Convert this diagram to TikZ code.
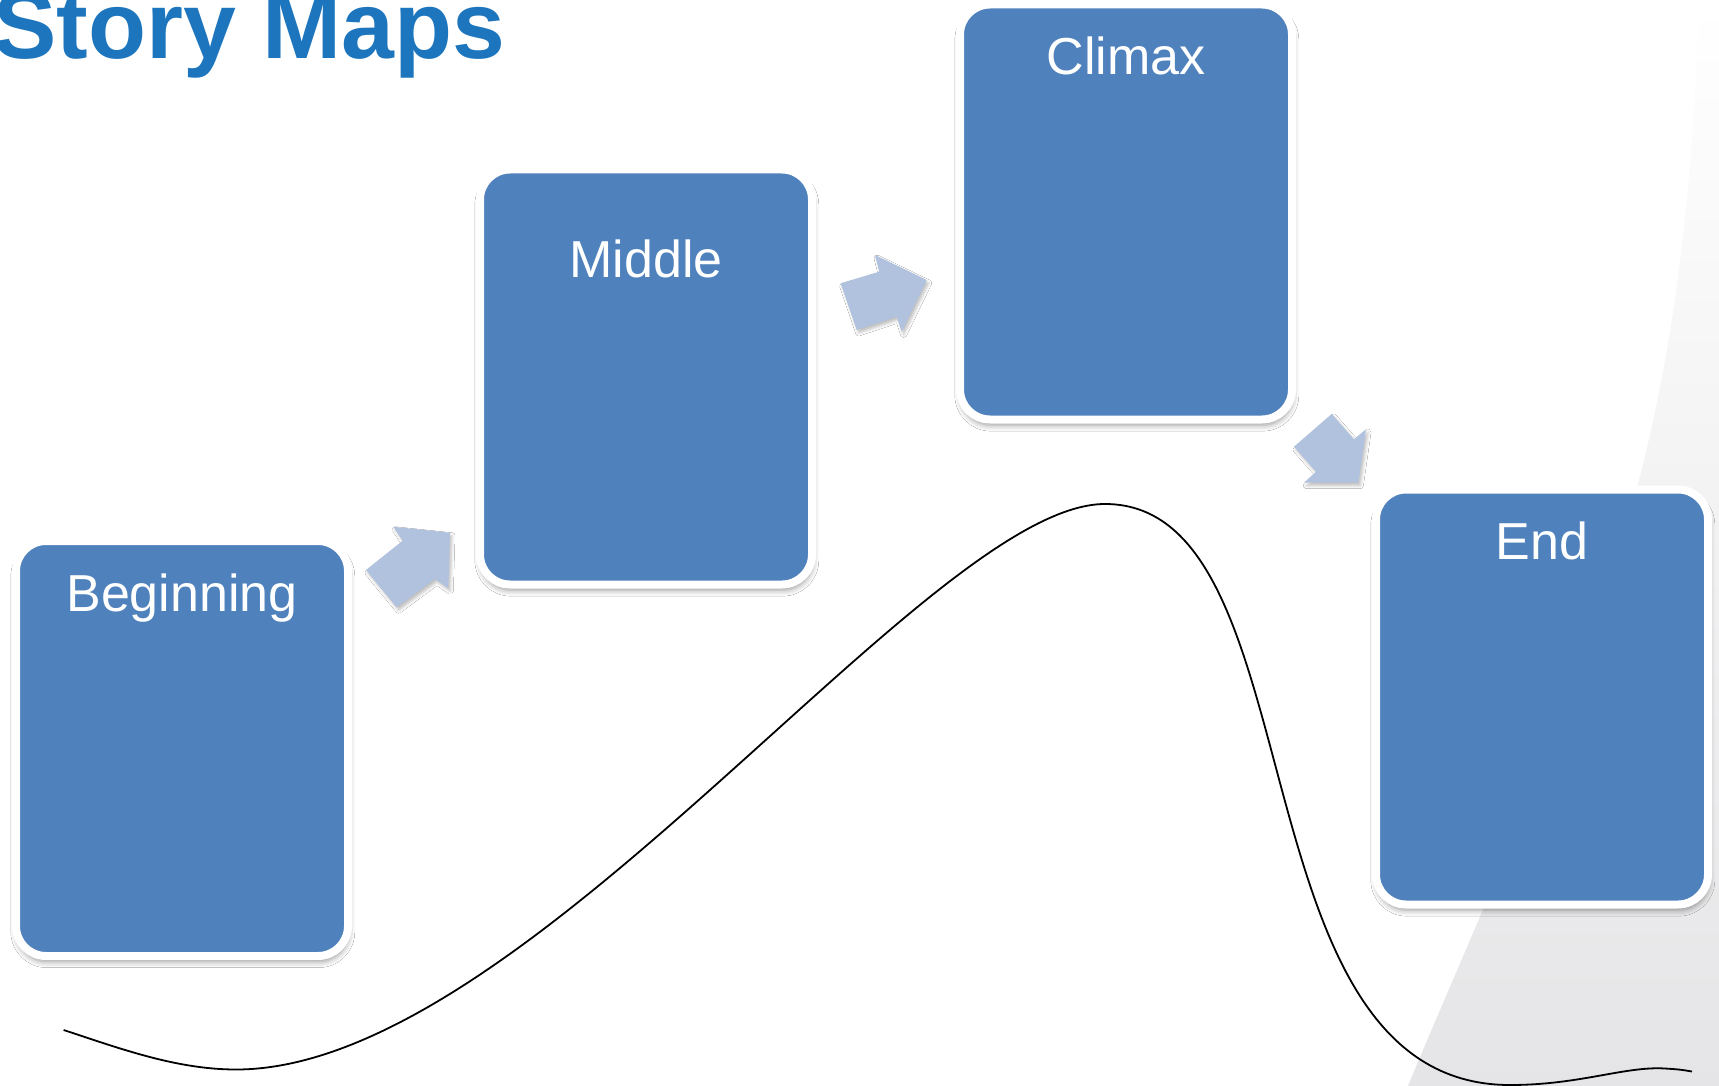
\documentclass[tikz,border=0pt]{standalone}
\usepackage{fontspec}
\setmainfont{Liberation Sans}
\usetikzlibrary{shadows.blur,calc}
\definecolor{cardblue}{RGB}{79,129,189}
\definecolor{arrowblue}{RGB}{177,194,222}
\definecolor{titleblue}{RGB}{29,118,189}
\definecolor{bggrey}{RGB}{229,228,230}
\begin{document}
\begin{tikzpicture}[x=0.5pt,y=-0.5pt,
  card/.style={rectangle, rounded corners=15pt, draw=white, line width=4pt,
    fill=cardblue, minimum width=166pt, minimum height=207.5pt, inner sep=0pt,
    blur shadow={shadow xshift=0.4pt, shadow yshift=-2.8pt, shadow blur radius=3pt, shadow opacity=42}},
  lbl/.style={anchor=base, text=white, inner sep=0pt, font=\fontsize{26pt}{30pt}\selectfont},
  arrowshape/.style={fill=arrowblue,
    blur shadow={shadow xshift=1pt, shadow yshift=-1.5pt, shadow blur radius=1.5pt, shadow opacity=25}},
  storyline/.style={draw=black, line width=0.9pt}]

\useasboundingbox (0,0) rectangle (1719,1086);
\fill[white] (0,0) rectangle (1719,1086);
\shade[top color=white, bottom color=bggrey]
  (1700,0) .. controls (1690,250) and (1665,420) .. (1600,610)
  .. controls (1530,810) and (1460,960) .. (1408,1086)
  -- (1719,1086) -- (1719,0) -- cycle;

\node[anchor=base west, text=titleblue, inner sep=0pt,
  font=\bfseries\fontsize{47.5pt}{52pt}\selectfont] (title) at (-7,58.5) {Story Maps};

\node[card] (beg) at (182,748.5) {};
\node[card] (mid) at (646,377) {};
\node[card] (cli) at (1126,212) {};
\node[card] (fin) at (1542,697) {};

\node[lbl] (begl) at ([yshift=-37pt]beg.north) {Beginning};
\node[lbl] (midl) at ([yshift=-56.2pt]mid.north) {Middle};
\node[lbl] (clil) at ([yshift=-37pt]cli.north) {Climax};
\node[lbl] (finl) at ([yshift=-37.2pt]fin.north) {End};

\fill[arrowshape] (366,570) -- (402.7,540.7) -- (393.3,526.7) -- (450,532.7)
  -- (448.3,588.3) -- (435,579) -- (396.7,607.3) -- cycle;
\fill[arrowshape] (840.7,283.3) -- (879.3,271.7) -- (875,255) -- (926.7,280)
  -- (901.7,331.7) -- (896.7,316.7) -- (856.7,330) -- cycle;
\fill[arrowshape] (1331.7,414) -- (1354,439.3) -- (1366,429.3) -- (1358.3,482.7)
  -- (1304,482.7) -- (1316,471.7) -- (1294,446.7) -- cycle;

\coordinate (s0) at (63.6,1030);
\coordinate (lowA) at (236,1069.5);
\coordinate (peak) at (1105,504);
\coordinate (lowB) at (1510,1085);
\coordinate (wav) at (1665,1068.5);
\coordinate (s1) at (1692,1071.5);
\draw[storyline] (s0) .. controls (118.6,1048) and (176,1069.5) .. (lowA)
  .. controls (528,1069.5) and (928,504) .. (peak)
  .. controls (1320,504) and (1230,1085) .. (lowB)
  .. controls (1580,1085) and (1625,1066) .. (wav)
  .. controls (1680,1069.5) .. (s1);
\end{tikzpicture}
\end{document}
